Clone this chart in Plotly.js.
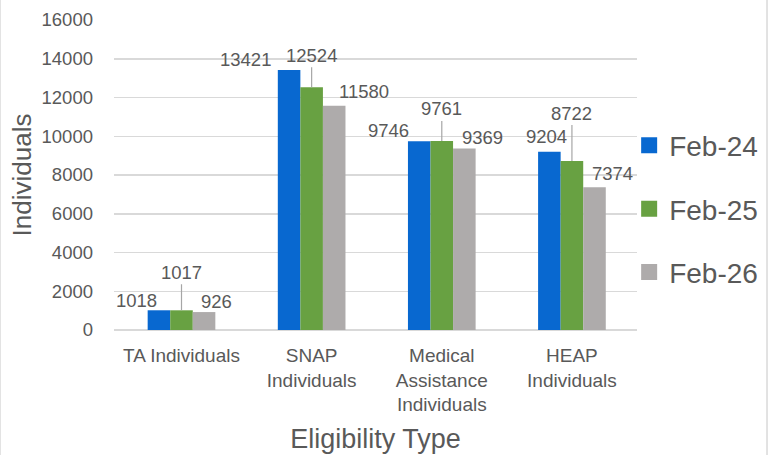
<!DOCTYPE html>
<html>
<head>
<meta charset="utf-8">
<script src="https://cdn.plot.ly/plotly-3.0.1.min.js"></script>
<style>html,body{margin:0;padding:0;background:#fff;}#chart{width:775px;height:455px;}</style>
</head>
<body>
<div id="chart"></div>
<script>
const categories = ["TA Individuals", "SNAP<br>Individuals", "Medical<br>Assistance<br>Individuals", "HEAP<br>Individuals"];
const seriesNames = ["Feb-24", "Feb-25", "Feb-26"];
const feb24 = [1018, 13421, 9746, 9204];
const feb25 = [1017, 12524, 9761, 8722];
const feb26 = [926, 11580, 9369, 7374];
const yTicks = [0, 2000, 4000, 6000, 8000, 10000, 12000, 14000, 16000];

const colors = ["#0868D0", "#68A142", "#AEABAB"];
const textColor = "#595959";
const font = "Liberation Sans, Arial, sans-serif";
const allSeries = [feb24, feb25, feb26];

const traces = allSeries.map((vals, i) => ({
  type: "bar",
  name: seriesNames[i],
  x: categories,
  y: vals,
  marker: {color: colors[i]},
  legendgroup: "g" + i,
  showlegend: false,
  hoverinfo: "skip"
}));

// legend entries with larger square swatches (no visible data)
seriesNames.forEach((name, i) => {
  traces.push({
    type: "scatter", mode: "markers",
    name: name,
    x: [categories[0]], y: [null],
    marker: {symbol: "square", size: 18, color: colors[i]},
    legendgroup: "g" + i,
    showlegend: true,
    hoverinfo: "skip"
  });
});

// label placement (pixel offsets, Excel best-fit style)
const labelXShift = [[-45, -66, -53, -25], [0, 0, 0, 0], [35, 52, 41, 41]];
const labelYShift = [[10, 10, 11, 15], [0, 0, 0, 0], [11, 14, 11, 14]];
const leaderLen = [-38, -32, -32, -48];
const labelFont = {family: font, size: 18.5, color: textColor};

const annotations = [];
allSeries.forEach((vals, i) => {
  vals.forEach((v, j) => {
    if (i === 1) {
      annotations.push({
        x: categories[j], y: v, xref: "x", yref: "y",
        text: String(v), showarrow: true, arrowhead: 0, arrowwidth: 1.2,
        arrowcolor: "#A6A6A6", ax: 0, ay: leaderLen[j], standoff: 0,
        font: labelFont
      });
    } else {
      annotations.push({
        x: categories[j], y: v, xref: "x", yref: "y",
        text: String(v), showarrow: false,
        xshift: labelXShift[i][j], yshift: labelYShift[i][j], yanchor: "middle",
        font: labelFont
      });
    }
  });
});

const layout = {
  width: 775, height: 455,
  margin: {l: 114, r: 138, t: 20, b: 125},
  paper_bgcolor: "#ffffff",
  plot_bgcolor: "#ffffff",
  font: {family: font, color: textColor},
  barmode: "group",
  bargap: 0.48,
  bargroupgap: 0,
  showlegend: true,
  xaxis: {
    type: "category",
    tickfont: {family: font, size: 19, color: textColor},
    showgrid: false, showline: false, ticks: "", zeroline: false,
    ticklabelstandoff: 12,
    title: {text: "Eligibility Type", font: {family: font, size: 27, color: textColor}, standoff: 14}
  },
  yaxis: {
    range: [0, 16000],
    tickvals: yTicks,
    ticktext: yTicks.map(String),
    tickfont: {family: font, size: 18.5, color: textColor},
    showgrid: true, gridcolor: "#D9D9D9", gridwidth: 1.5,
    zeroline: true, zerolinecolor: "#D9D9D9", zerolinewidth: 1.5,
    showline: false, ticks: "", ticklen: 0,
    ticklabelstandoff: 20,
    title: {text: "Individuals", font: {family: font, size: 26, color: textColor}, standoff: 2}
  },
  legend: {
    x: 0.985, xanchor: "left", y: 0.39, yanchor: "middle",
    font: {family: font, size: 28, color: textColor},
    tracegroupgap: 24,
    itemwidth: 30,
    bgcolor: "rgba(0,0,0,0)"
  },
  annotations: annotations,
  shapes: [
    {type: "line", xref: "paper", yref: "paper", x0: -0.218, x1: -0.218, y0: -0.41, y1: 1.07, line: {color: "#D9D9D9", width: 1.5}},
    {type: "line", xref: "paper", yref: "paper", x0: 1.2486, x1: 1.2486, y0: -0.41, y1: 1.07, line: {color: "#D9D9D9", width: 1.5}}
  ]
};

Plotly.newPlot("chart", traces, layout, {displayModeBar: false, staticPlot: true});
</script>
</body>
</html>
